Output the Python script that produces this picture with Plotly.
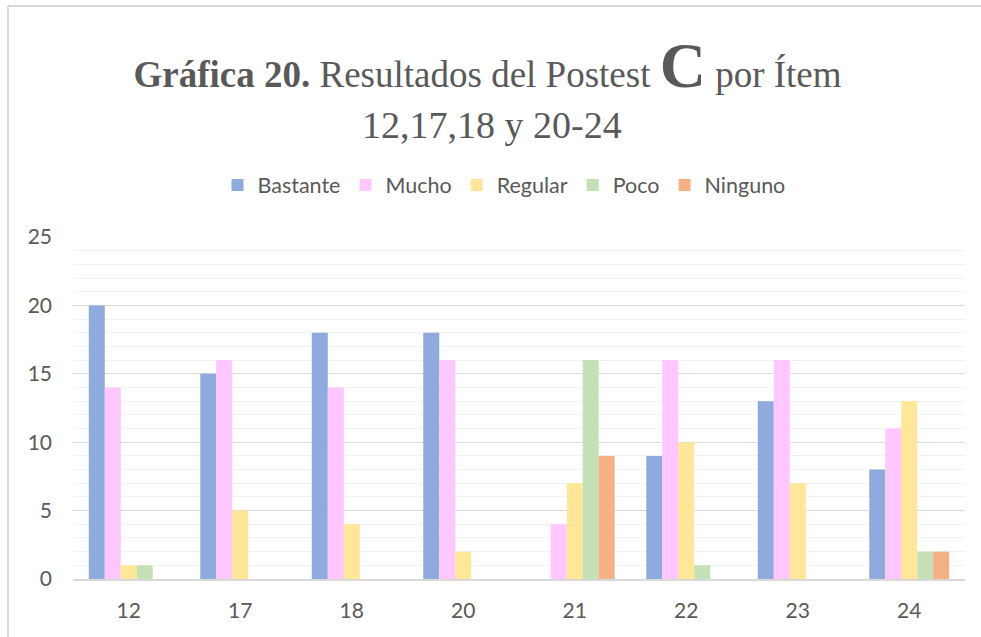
import plotly.graph_objects as go

items = ["12", "17", "18", "20", "21", "22", "23", "24"]
bastante = [20, 15, 18, 18, 0, 9, 13, 8]
mucho = [14, 16, 14, 16, 4, 16, 16, 11]
regular = [1, 5, 4, 2, 7, 10, 7, 13]
poco = [1, 0, 0, 0, 16, 1, 0, 2]
ninguno = [0, 0, 0, 0, 9, 0, 0, 2]

series = [
    ("Bastante", bastante, "#8FAADC"),
    ("Mucho", mucho, "#FFC6FF"),
    ("Regular", regular, "#FFE699"),
    ("Poco", poco, "#C5E0B4"),
    ("Ninguno", ninguno, "#F4B183"),
]

W, H = 981, 637
ML, MR, MT, MB = 73, 16, 237, 58
PW, PH = W - ML - MR, H - MT - MB

def px_x(px):
    return (px - ML) / PW

def px_y(py):
    return (H - MB - py) / PH

fig = go.Figure()
for name, vals, col in series:
    fig.add_trace(go.Bar(x=items, y=vals, name=name,
                         marker=dict(color=col, line=dict(width=0))))

fig.update_layout(
    width=W, height=H,
    margin=dict(l=ML, r=MR, t=MT, b=MB),
    barmode="group", bargap=0.283, bargroupgap=0,
    plot_bgcolor="white", paper_bgcolor="white",
    font=dict(family="Lato", size=21, color="#595959"),
    title=dict(
        text="<b>Gráfica 20.</b> Resultados del Postest <b><span style='font-size:64px'>C</span></b> por Ítem",
        font=dict(family="Liberation Serif", size=37, color="#595959"),
        x=0.497, xanchor="center", xref="container",
        y=1 - 74 / H, yanchor="middle", yref="container",
    ),
    annotations=[dict(
        text="12,17,18 y 20-24", xref="paper", yref="paper",
        x=px_x(492), y=px_y(125), xanchor="center", yanchor="middle",
        showarrow=False,
        font=dict(family="Liberation Serif", size=38, color="#595959"),
    )],
    legend=dict(orientation="h", x=px_x(504), xanchor="center",
                y=px_y(185), yanchor="middle", traceorder="normal",
                font=dict(family="Lato", size=21.5, color="#595959"),
                itemwidth=30),
    xaxis=dict(type="category", showgrid=False, showline=True,
               linecolor="#D9D9D9", linewidth=1.5, ticks="",
               ticklabelstandoff=12),
    yaxis=dict(range=[0, 25], dtick=5, showgrid=True, gridcolor="#D9D9D9",
               gridwidth=1.3, zeroline=False, ticks="",
               ticklabelstandoff=20,
               minor=dict(dtick=1, showgrid=True, gridcolor="#F2F2F2", gridwidth=1.3)),
    shapes=[
        dict(type="line", xref="paper", yref="paper", x0=px_x(8), x1=px_x(8),
             y0=px_y(H + 5), y1=px_y(6), line=dict(color="#D9D9D9", width=2)),
        dict(type="line", xref="paper", yref="paper", x0=px_x(8), x1=px_x(W + 5),
             y0=px_y(6), y1=px_y(6), line=dict(color="#D9D9D9", width=2)),
    ],
)

fig.write_html("out.html", config={"displayModeBar": False},
               post_script="document.body.style.margin='0';document.body.style.overflow='hidden';")
